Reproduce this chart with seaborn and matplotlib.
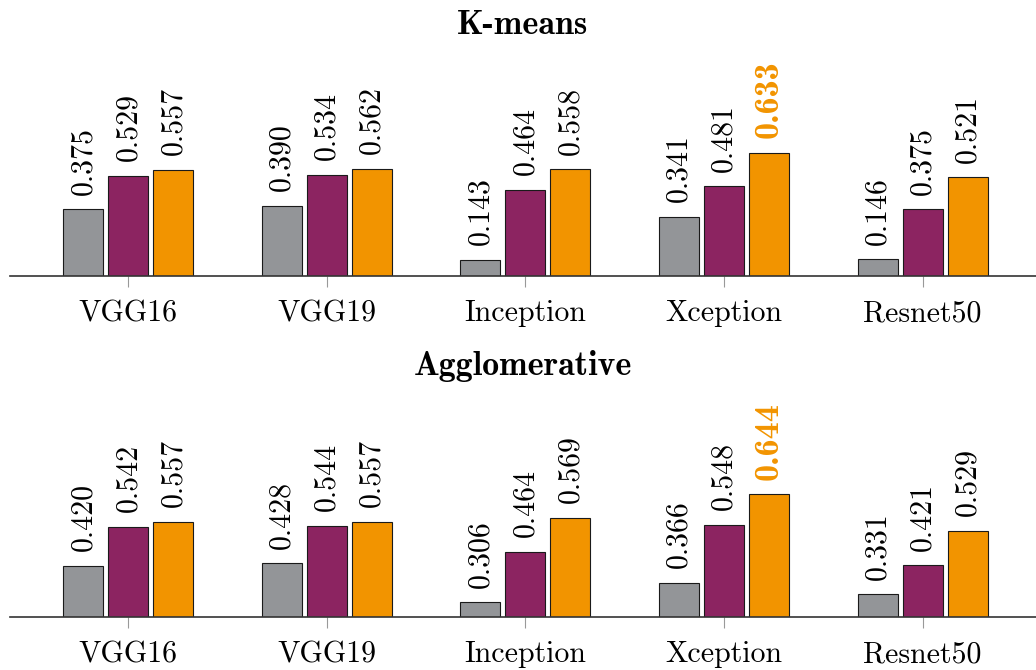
import numpy as np
import pandas as pd
import matplotlib.pyplot as plt
import seaborn as sns

sns.set_style("white")
plt.rcParams["font.family"] = ["cmr10", "DejaVu Serif"]
plt.rcParams["axes.formatter.use_mathtext"] = True
plt.rcParams["text.color"] = "black"
plt.rcParams["xtick.labelcolor"] = "black"

models = ["VGG16", "VGG19", "Inception", "Xception", "Resnet50"]
series = ["A", "B", "C"]
kmeans_a = [0.375, 0.390, 0.143, 0.341, 0.146]
kmeans_b = [0.529, 0.534, 0.464, 0.481, 0.375]
kmeans_c = [0.557, 0.562, 0.558, 0.633, 0.521]
agglo_a = [0.420, 0.428, 0.306, 0.366, 0.331]
agglo_b = [0.542, 0.544, 0.464, 0.548, 0.421]
agglo_c = [0.557, 0.557, 0.569, 0.644, 0.529]

colors = ["#939598", "#8C2461", "#F29400"]
FS = 21.5
FS_BOLD = 24.5


def long_df(a, b, c):
    rows = []
    for s, vals in zip(series, (a, b, c)):
        for m, v in zip(models, vals):
            rows.append({"model": m, "series": s, "score": v})
    return pd.DataFrame(rows)


panels = [
    ("K-means", long_df(kmeans_a, kmeans_b, kmeans_c), (0.0677, 1.1127), 0.5876),
    ("Agglomerative", long_df(agglo_a, agglo_b, agglo_c), (0.2585, 0.9715), 0.0787),
]

fig = plt.figure(figsize=(10.36, 6.70), dpi=100)
for title, df, ylim, bottom in panels:
    ax = fig.add_axes([10 / 1036, bottom, 1 - 10 / 1036, 0.34])
    sns.barplot(data=df, x="model", y="score", hue="series", order=models,
                hue_order=series, palette=colors, saturation=1, width=0.68,
                gap=0.111, edgecolor="#1a1a1a", linewidth=0.8, legend=False,
                ax=ax)
    ax.set_xlim(-0.596, 4.571)
    ax.set_ylim(*ylim)
    top = df["score"].max()
    for cont in ax.containers:
        texts = ax.bar_label(cont, fmt="%.3f", rotation=90, padding=10.5,
                             fontsize=FS, color="black")
        for t, bar in zip(texts, cont):
            if np.isclose(bar.get_height(), top):
                t.set_color("#F29400")
                t.set_family("cmb10")
                t.set_fontsize(FS_BOLD)
    ax.set_title(title, fontsize=FS_BOLD, family="cmb10", pad=10.5,
                 color="black")
    ax.set_xlabel(""); ax.set_ylabel("")
    ax.set_yticks([])
    for side in ["left", "top", "right"]:
        ax.spines[side].set_visible(False)
    ax.spines["bottom"].set_color("#333333")
    ax.spines["bottom"].set_linewidth(1.2)
    ax.tick_params(axis="x", bottom=True, length=8, width=0.8,
                   color="#999999", pad=9, labelsize=FS, labelcolor="black")

fig.savefig("out.png", dpi=100)
